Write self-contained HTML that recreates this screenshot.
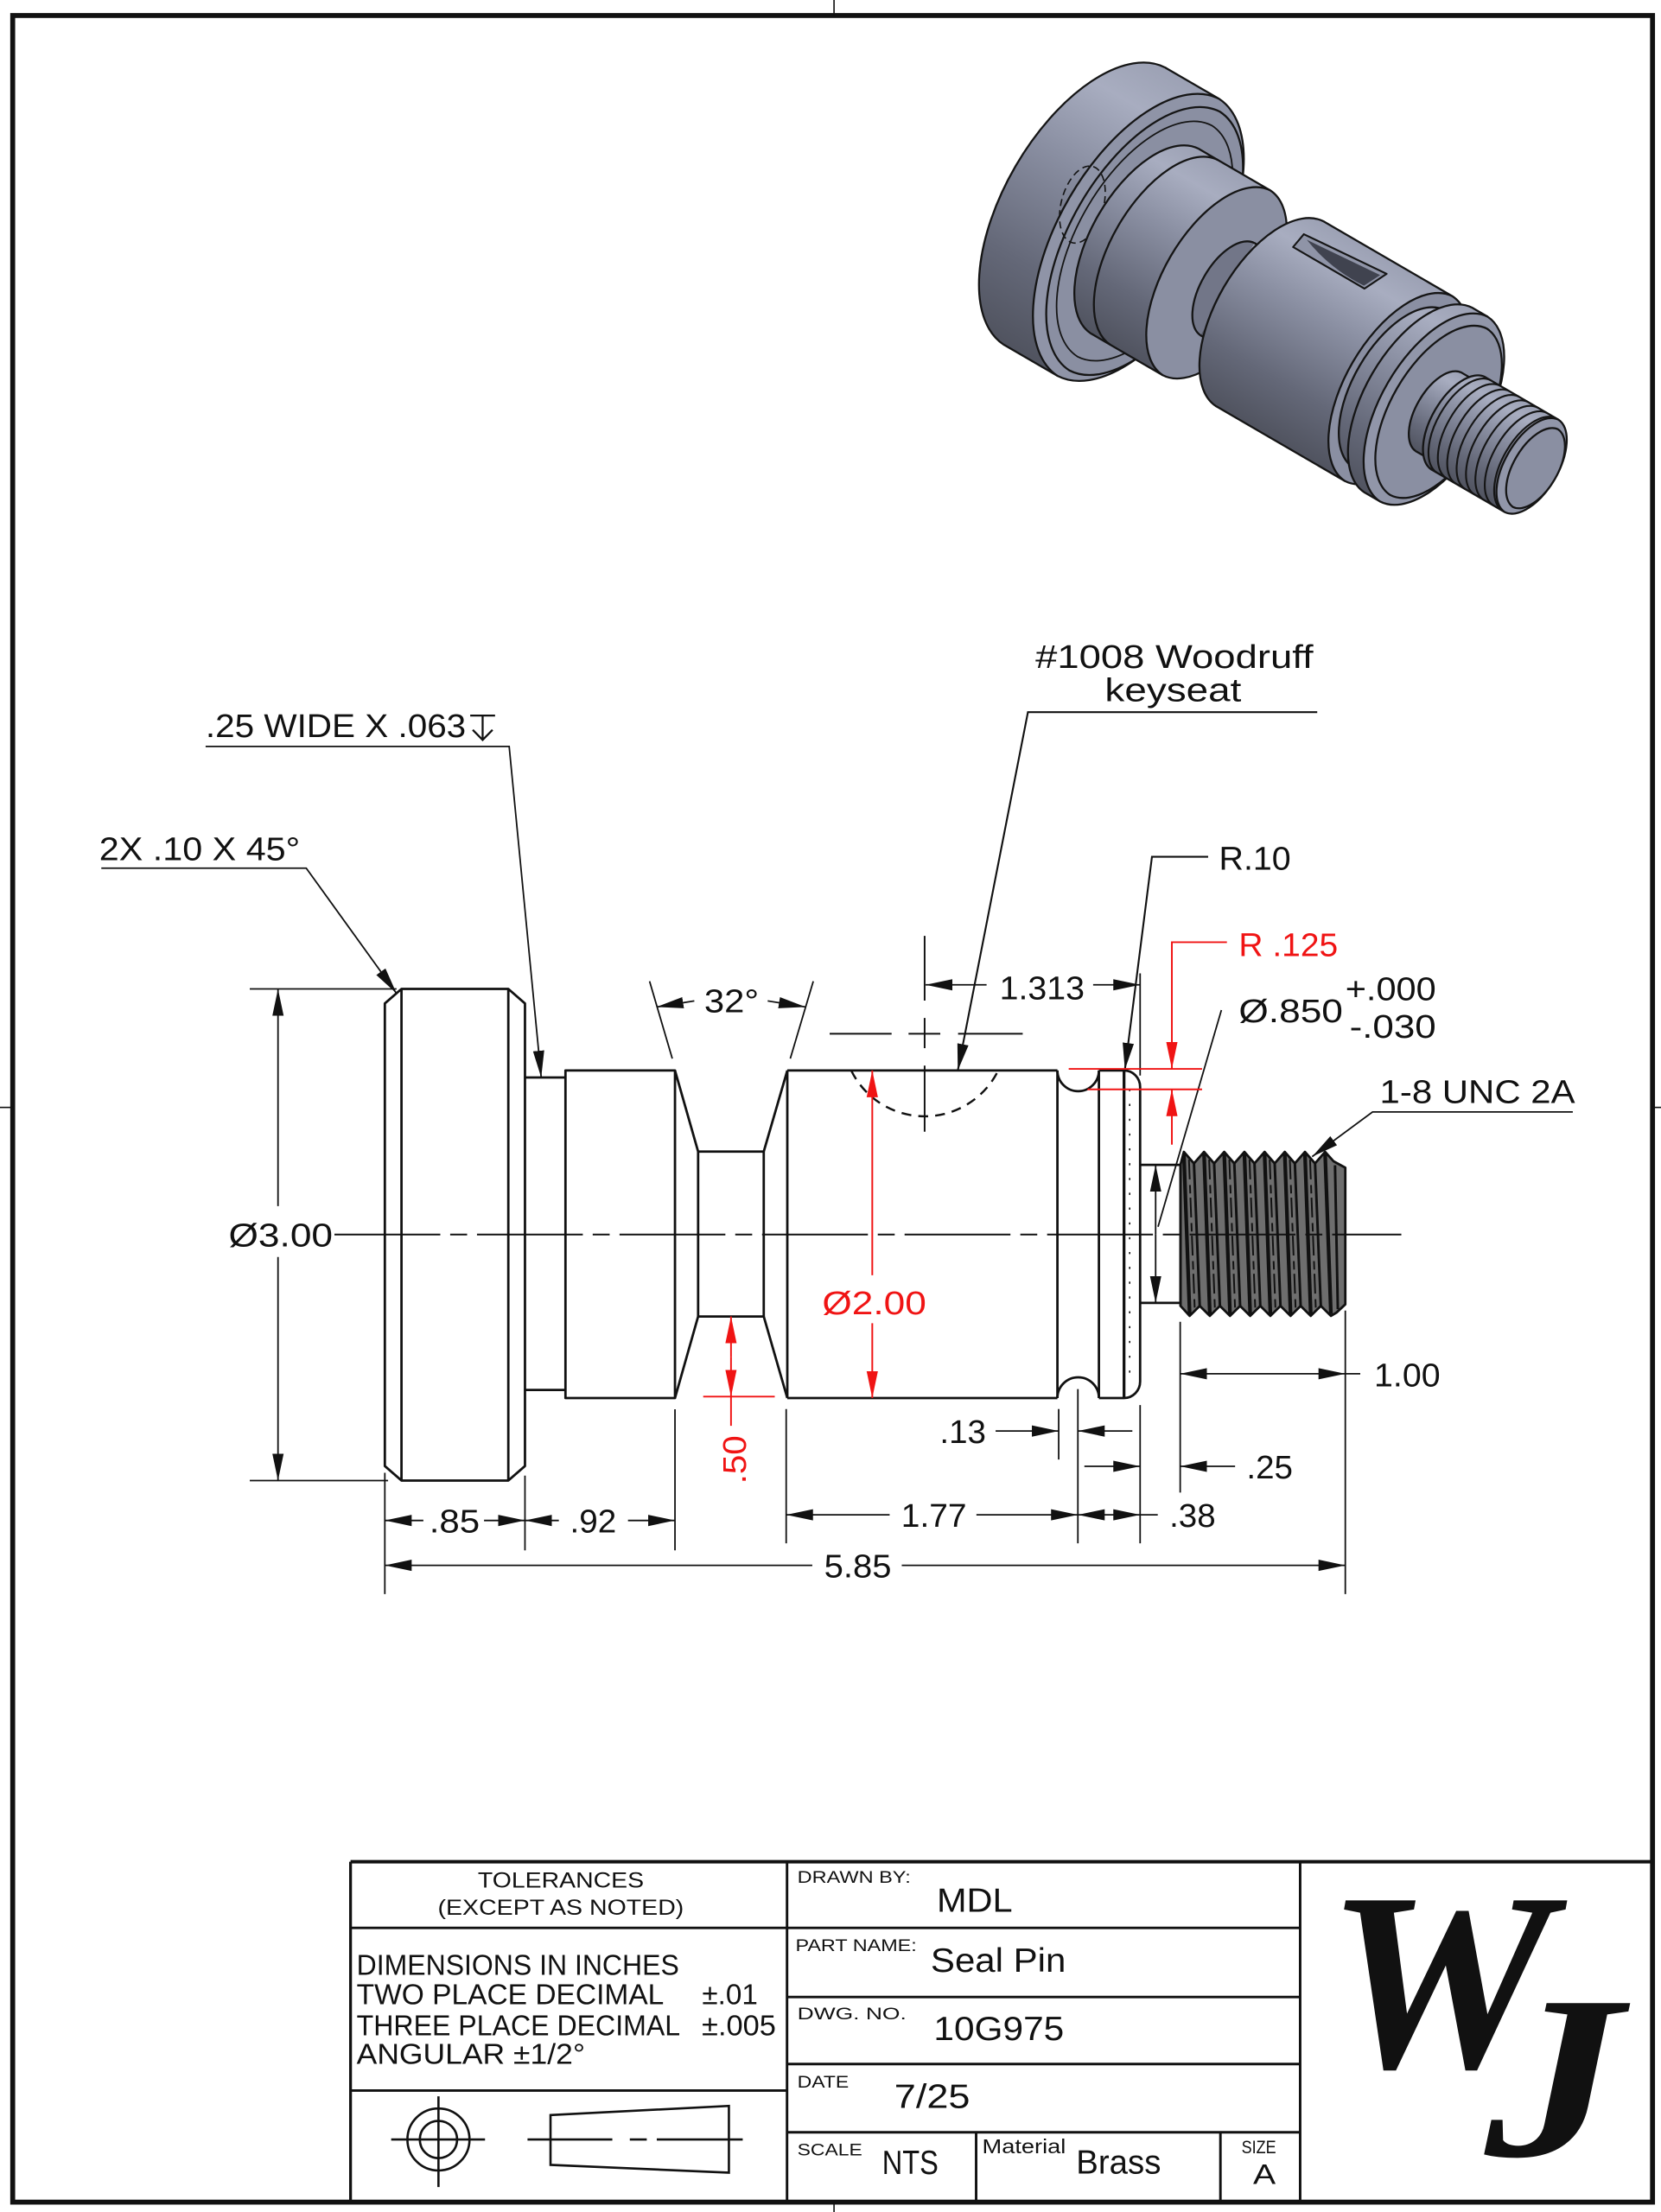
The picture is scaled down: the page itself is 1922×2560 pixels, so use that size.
<!DOCTYPE html>
<html><head><meta charset="utf-8"><style>
html,body{margin:0;padding:0;background:#fff;}
svg{display:block;}
text{font-family:"Liberation Sans",sans-serif;fill:#111;}
.d{font-size:23.5px;}
.r{fill:#f01414;}
.t{font-size:12px;}
.b{font-size:24px;}
</style></head><body>
<svg xmlns="http://www.w3.org/2000/svg" width="1922" height="2560" viewBox="0 0 1177 1568" preserveAspectRatio="none">
<defs>
<marker id="a" markerUnits="userSpaceOnUse" markerWidth="20" markerHeight="10" viewBox="0 0 20 10" refX="19" refY="5" orient="auto"><path d="M0,1 L19,5 L0,9 Z" fill="#111"/></marker>
<marker id="ar" markerUnits="userSpaceOnUse" markerWidth="20" markerHeight="10" viewBox="0 0 20 10" refX="19" refY="5" orient="auto"><path d="M0,1 L19,5 L0,9 Z" fill="#f01414"/></marker>
<linearGradient id="g15" gradientUnits="userSpaceOnUse" x1="706.85" y1="241.75" x2="821.15" y2="45.25"><stop offset="0" stop-color="#50535f"/><stop offset="0.25" stop-color="#646878"/><stop offset="0.6" stop-color="#8a8fa2"/><stop offset="0.85" stop-color="#a8adc0"/><stop offset="1" stop-color="#9ca1b4"/></linearGradient>
<linearGradient id="g10" gradientUnits="userSpaceOnUse" x1="725.9" y1="209" x2="802.1" y2="78"><stop offset="0" stop-color="#50535f"/><stop offset="0.25" stop-color="#646878"/><stop offset="0.6" stop-color="#8a8fa2"/><stop offset="0.85" stop-color="#a8adc0"/><stop offset="1" stop-color="#9ca1b4"/></linearGradient>
<linearGradient id="g05" gradientUnits="userSpaceOnUse" x1="744.95" y1="176.25" x2="783.05" y2="110.75"><stop offset="0" stop-color="#50535f"/><stop offset="0.25" stop-color="#646878"/><stop offset="0.6" stop-color="#8a8fa2"/><stop offset="0.85" stop-color="#a8adc0"/><stop offset="1" stop-color="#9ca1b4"/></linearGradient>
<linearGradient id="g04" gradientUnits="userSpaceOnUse" x1="747.81" y1="171.34" x2="780.19" y2="115.66"><stop offset="0" stop-color="#50535f"/><stop offset="0.25" stop-color="#646878"/><stop offset="0.6" stop-color="#8a8fa2"/><stop offset="0.85" stop-color="#a8adc0"/><stop offset="1" stop-color="#9ca1b4"/></linearGradient>
</defs>

<!-- Sheet border -->
<rect x="9" y="11" width="1162" height="1550" fill="none" stroke="#111" stroke-width="3.5"/>
<g stroke="#111" stroke-width="1">
<line x1="591" y1="0" x2="591" y2="11"/>
<line x1="591" y1="1561" x2="591" y2="1568"/>
<line x1="0" y1="785" x2="9" y2="785"/>
<line x1="1171" y1="785" x2="1177" y2="785"/>
</g>

<!-- 3D render -->
<g stroke="#151515" stroke-width="1.4" stroke-linejoin="round">
<path d="M825.58,47.83 A113.7,57.9 -59.8 0 1 711.28,244.33 A113.7,57.9 -59.8 0 1 825.58,47.83 Z" fill="url(#g15)"/>
<polygon points="825.58,47.83 863.81,70.04 749.51,266.54 711.28,244.33" fill="url(#g15)" stroke="none"/>
<line x1="825.58" y1="47.83" x2="863.81" y2="70.04"/>
<line x1="711.28" y1="244.33" x2="749.51" y2="266.54"/>
<path d="M863.81,70.04 A113.7,57.9 -59.8 0 1 749.51,266.54 A113.7,57.9 -59.8 0 1 863.81,70.04 Z" fill="#8f94a7"/>
<path d="M864.43,79.17 A106.12,54.04 -59.8 0 1 757.75,262.57 A106.12,54.04 -59.8 0 1 864.43,79.17 Z" fill="#8a8fa2"/>
<path d="M858.72,88.99 A94.75,48.25 -59.8 0 1 763.46,252.75 A94.75,48.25 -59.8 0 1 858.72,88.99 Z" fill="none" stroke-width="1.1"/>
<ellipse cx="767" cy="145" rx="15" ry="28" transform="rotate(15 767 145)" fill="none" stroke-width="1" stroke-dasharray="5 3"/>
<path d="M849.19,105.37 A75.8,38.6 -59.8 0 1 772.99,236.37 A75.8,38.6 -59.8 0 1 849.19,105.37 Z" fill="url(#g10)"/>
<polygon points="849.19,105.37 900.16,134.99 823.96,265.99 772.99,236.37" fill="url(#g10)" stroke="none"/>
<line x1="849.19" y1="105.37" x2="900.16" y2="134.99"/>
<line x1="772.99" y1="236.37" x2="823.96" y2="265.99"/>
<path d="M863.04,113.42 A75.8,38.6 -59.8 0 0 786.84,244.42" fill="none"/>
<path d="M900.16,134.99 A75.8,38.6 -59.8 0 1 823.96,265.99 A75.8,38.6 -59.8 0 1 900.16,134.99 Z" fill="#8a8fa2"/>
<path d="M888.86,172.25 A37.9,19.3 -59.8 0 1 850.76,237.75 A37.9,19.3 -59.8 0 1 888.86,172.25 Z" fill="#727688"/>
<polygon points="888.86,172.25 911.02,185.13 872.92,250.63 850.76,237.75" fill="url(#g05)" stroke="none"/>
<line x1="888.86" y1="172.25" x2="911.02" y2="185.13"/>
<line x1="850.76" y1="237.75" x2="872.92" y2="250.63"/>
<polygon points="911.02,185.13 937.83,156.89 861.63,287.89 872.92,250.63" fill="url(#g10)" stroke="none"/>
<line x1="911.02" y1="185.13" x2="937.83" y2="156.89"/>
<line x1="872.92" y1="250.63" x2="861.63" y2="287.89"/>
<path d="M937.83,156.89 A75.8,38.6 -59.8 0 1 861.63,287.89 A75.8,38.6 -59.8 0 1 937.83,156.89 Z" fill="url(#g10)"/>
<polygon points="937.83,156.89 1029.24,210.02 953.04,341.02 861.63,287.89" fill="url(#g10)" stroke="none"/>
<line x1="937.83" y1="156.89" x2="1029.24" y2="210.02"/>
<line x1="861.63" y1="287.89" x2="953.04" y2="341.02"/>
<polygon points="916.3,175.1 923.9,166 982.6,194.1 966.9,204.6" fill="#8f94a7" stroke-width="1.3"/>
<path d="M926,170 L978,195 L966.5,202.5 Q943,191 926,170 Z" fill="#40434f" stroke="none"/>
<path d="M1029.24,210.02 A75.8,38.6 -59.8 0 1 953.04,341.02 A75.8,38.6 -59.8 0 1 1029.24,210.02 Z" fill="#8a8fa2"/>
<path d="M1023.53,219.84 A64.43,32.81 -59.8 0 1 958.75,331.2 A64.43,32.81 -59.8 0 1 1023.53,219.84 Z" fill="url(#g10)"/>
<polygon points="1023.53,219.84 1037.38,227.89 972.6,339.25 958.75,331.2" fill="url(#g10)" stroke="none"/>
<line x1="1023.53" y1="219.84" x2="1037.38" y2="227.89"/>
<line x1="958.75" y1="331.2" x2="972.6" y2="339.25"/>
<path d="M1043.09,218.07 A75.8,38.6 -59.8 0 1 966.89,349.07 A75.8,38.6 -59.8 0 1 1043.09,218.07 Z" fill="url(#g10)"/>
<polygon points="1043.09,218.07 1054.17,224.51 977.97,355.51 966.89,349.07" fill="url(#g10)" stroke="none"/>
<line x1="1043.09" y1="218.07" x2="1054.17" y2="224.51"/>
<line x1="966.89" y1="349.07" x2="977.97" y2="355.51"/>
<path d="M1054.17,224.51 A75.8,38.6 -59.8 0 1 977.97,355.51 A75.8,38.6 -59.8 0 1 1054.17,224.51 Z" fill="#9196a9"/>
<path d="M1053.68,232.99 A68.22,34.74 -59.8 0 1 985.1,350.89 A68.22,34.74 -59.8 0 1 1053.68,232.99 Z" fill="#8a8fa2"/>
<path d="M1035.58,264.1 A32.22,16.41 -59.8 0 1 1003.2,319.78 A32.22,16.41 -59.8 0 1 1035.58,264.1 Z" fill="url(#g04)"/>
<polygon points="1035.58,264.1 1049.43,272.15 1017.05,327.83 1003.2,319.78" fill="url(#g04)" stroke="none"/>
<line x1="1035.58" y1="264.1" x2="1049.43" y2="272.15"/>
<line x1="1003.2" y1="319.78" x2="1017.05" y2="327.83"/>
<path d="M1052.29,267.24 A37.9,19.3 -59.8 0 1 1014.19,332.74 A37.9,19.3 -59.8 0 1 1052.29,267.24 Z" fill="url(#g05)"/>
<polygon points="1052.29,267.24 1104.37,297.51 1066.27,363.01 1014.19,332.74" fill="url(#g05)" stroke="none"/>
<line x1="1052.29" y1="267.24" x2="1104.37" y2="297.51"/>
<line x1="1014.19" y1="332.74" x2="1066.27" y2="363.01"/>
<g fill="none" stroke-width="1.3">
<path d="M1056.17,269.5 A37.9,19.3 -59.8 0 0 1018.07,335"/>
<path d="M1062.82,273.36 A37.9,19.3 -59.8 0 0 1024.72,338.86"/>
<path d="M1069.47,277.22 A37.9,19.3 -59.8 0 0 1031.37,342.72"/>
<path d="M1076.12,281.09 A37.9,19.3 -59.8 0 0 1038.02,346.59"/>
<path d="M1082.76,284.95 A37.9,19.3 -59.8 0 0 1044.66,350.45"/>
<path d="M1089.41,288.82 A37.9,19.3 -59.8 0 0 1051.31,354.32"/>
<path d="M1096.06,292.68 A37.9,19.3 -59.8 0 0 1057.96,358.18"/>
<path d="M1102.71,296.54 A37.9,19.3 -59.8 0 0 1064.61,362.04"/>
</g>
<path d="M1104.37,297.51 A37.9,19.3 -59.8 0 1 1066.27,363.01 A37.9,19.3 -59.8 0 1 1104.37,297.51 Z" fill="#9196a9"/>
<path d="M1104.09,304.36 A31.84,16.21 -59.8 0 1 1072.09,359.38 A31.84,16.21 -59.8 0 1 1104.09,304.36 Z" fill="#8a8fa2"/>
</g>

<!-- ===== 2D view: object lines ===== -->
<g fill="none" stroke="#111" stroke-width="1.7" stroke-linejoin="round">
<path d="M272.7,711.3 L284.5,701 L360.2,701 L372,711.3 L372,1039.2 L360.2,1049.5 L284.5,1049.5 L272.7,1039.2 Z"/>
<line x1="284.5" y1="701" x2="284.5" y2="1049.5"/>
<line x1="360.2" y1="701" x2="360.2" y2="1049.5"/>
<line x1="372" y1="763.8" x2="400.7" y2="763.8"/>
<line x1="372" y1="985.3" x2="400.7" y2="985.3"/>
<rect x="400.7" y="758.8" width="77.6" height="232.2"/>
<path d="M478.3,758.8 L494.7,816.3 L541.2,816.3 L557.9,758.8"/>
<path d="M478.3,991 L494.7,933.2 L541.2,933.2 L557.9,991"/>
<line x1="494.7" y1="816.3" x2="494.7" y2="933.2"/>
<line x1="541.2" y1="816.3" x2="541.2" y2="933.2"/>
<line x1="557.9" y1="758.8" x2="557.9" y2="991"/>
<line x1="557.9" y1="758.8" x2="749.3" y2="758.8"/>
<line x1="557.9" y1="991" x2="749.3" y2="991"/>
<line x1="749.3" y1="758.8" x2="749.3" y2="991"/>
<path d="M749.3,758.8 A14.7,14.7 0 0 0 778.7,758.8"/>
<path d="M749.3,991 A14.7,14.7 0 0 1 778.7,991"/>
<line x1="778.7" y1="758.8" x2="778.7" y2="991"/>
<path d="M778.7,758.8 L796.5,758.8 A11.4,11.7 0 0 1 807.9,770.5 L807.9,979.3 A11.4,11.7 0 0 1 796.5,991 L778.7,991"/>
<line x1="796.5" y1="758.8" x2="796.5" y2="991" stroke-width="2"/>
<line x1="800.5" y1="772" x2="800.5" y2="980" stroke-width="1" stroke-dasharray="1.5 9"/>
<line x1="807.9" y1="825.7" x2="836.5" y2="825.7"/>
<line x1="807.9" y1="923.6" x2="836.5" y2="923.6"/>
<path fill="#6e6e6e" d="M836.5,825.5 L838.9,816.5 L846.05,824.7 L853.2,816.5 L860.35,824.7 L867.5,816.5 L874.65,824.7 L881.8,816.5 L888.95,824.7 L896.1,816.5 L903.25,824.7 L910.4,816.5 L917.55,824.7 L924.7,816.5 L931.85,824.7 L939,816.5 L945,823.2 L953.3,827.7 L953.3,924.6 L947,930.5 L943.1,932.8 L935.95,925.7 L928.8,932.8 L921.65,925.7 L914.5,932.8 L907.35,925.7 L900.2,932.8 L893.05,925.7 L885.9,932.8 L878.75,925.7 L871.6,932.8 L864.45,925.7 L857.3,932.8 L850.15,925.7 L843,932.8 L836.5,925.7 Z"/>
</g>
<g stroke="#111" fill="none">
<g stroke-width="2.6">
<line x1="838.9" y1="818" x2="843" y2="931.5"/>
<line x1="853.2" y1="818" x2="857.3" y2="931.5"/>
<line x1="867.5" y1="818" x2="871.6" y2="931.5"/>
<line x1="881.8" y1="818" x2="885.9" y2="931.5"/>
<line x1="896.1" y1="818" x2="900.2" y2="931.5"/>
<line x1="910.4" y1="818" x2="914.5" y2="931.5"/>
<line x1="924.7" y1="818" x2="928.8" y2="931.5"/>
<line x1="939" y1="818" x2="943.1" y2="931.5"/>
</g>
<g stroke-width="1.8">
<line x1="846.05" y1="824.7" x2="850.15" y2="925.7"/>
<line x1="860.35" y1="824.7" x2="864.45" y2="925.7"/>
<line x1="874.65" y1="824.7" x2="878.75" y2="925.7"/>
<line x1="888.95" y1="824.7" x2="893.05" y2="925.7"/>
<line x1="903.25" y1="824.7" x2="907.35" y2="925.7"/>
<line x1="917.55" y1="824.7" x2="921.65" y2="925.7"/>
<line x1="931.85" y1="824.7" x2="935.95" y2="925.7"/>
<line x1="946" y1="826" x2="948" y2="928"/>
</g>
<g stroke-width="1.2" stroke-dasharray="14 4 6 3">
<line x1="842.5" y1="822" x2="846.6" y2="928"/>
<line x1="856.8" y1="822" x2="860.9" y2="928"/>
<line x1="871.1" y1="822" x2="875.2" y2="928"/>
<line x1="885.4" y1="822" x2="889.5" y2="928"/>
<line x1="899.7" y1="822" x2="903.8" y2="928"/>
<line x1="914" y1="822" x2="918.1" y2="928"/>
<line x1="928.3" y1="822" x2="932.4" y2="928"/>
</g>
<line x1="836.5" y1="825" x2="836.5" y2="926" stroke-width="1.7"/>
</g>

<line x1="237" y1="875.1" x2="993" y2="875.1" stroke="#111" stroke-width="1.2" stroke-dasharray="75 7 12 7"/>

<g stroke="#111" stroke-width="1.2" fill="none">
<line x1="655.2" y1="663.4" x2="655.2" y2="709.3"/>
<line x1="655.2" y1="721.6" x2="655.2" y2="743"/>
<line x1="655.2" y1="755.4" x2="655.2" y2="802.2"/>
<line x1="587.9" y1="732.8" x2="631.8" y2="732.8"/>
<line x1="643.8" y1="732.8" x2="666.3" y2="732.8"/>
<line x1="678.9" y1="732.8" x2="724.7" y2="732.8"/>
<path d="M603.2,758.9 A58,58 0 0 0 707.3,758.9" stroke-width="1.5" stroke-dasharray="7 5"/>
</g>

<g stroke="#111" stroke-width="1.1" fill="none">
<line x1="177" y1="701" x2="281" y2="701"/>
<line x1="177" y1="1049.5" x2="275" y2="1049.5"/>
<line x1="197" y1="855" x2="197" y2="701" marker-end="url(#a)"/>
<line x1="197" y1="891" x2="197" y2="1049.5" marker-end="url(#a)"/>
<line x1="272.7" y1="1044" x2="272.7" y2="1130"/>
<line x1="372" y1="1046" x2="372" y2="1099"/>
<line x1="478.3" y1="999" x2="478.3" y2="1099"/>
<line x1="557.1" y1="998.8" x2="557.1" y2="1094"/>
<line x1="750.2" y1="998.8" x2="750.2" y2="1034.6"/>
<line x1="763.8" y1="984.7" x2="763.8" y2="1094"/>
<line x1="807.9" y1="996" x2="807.9" y2="1094"/>
<line x1="836.3" y1="937" x2="836.3" y2="1058"/>
<line x1="953.3" y1="929" x2="953.3" y2="1130"/>
<line x1="300" y1="1077.8" x2="272.7" y2="1077.8" marker-end="url(#a)"/>
<line x1="343" y1="1077.8" x2="372" y2="1077.8" marker-end="url(#a)"/>
<line x1="396" y1="1077.8" x2="372" y2="1077.8" marker-end="url(#a)"/>
<line x1="445" y1="1077.8" x2="478.3" y2="1077.8" marker-end="url(#a)"/>
<line x1="575.6" y1="1109.6" x2="272.7" y2="1109.6" marker-end="url(#a)"/>
<line x1="639" y1="1109.6" x2="953.3" y2="1109.6" marker-end="url(#a)"/>
<line x1="630.4" y1="1073.8" x2="557.1" y2="1073.8" marker-end="url(#a)"/>
<line x1="691.9" y1="1073.8" x2="763.8" y2="1073.8" marker-end="url(#a)"/>
<line x1="786" y1="1073.8" x2="763.8" y2="1073.8" marker-end="url(#a)"/>
<line x1="786" y1="1073.8" x2="807.9" y2="1073.8" marker-end="url(#a)"/>
<line x1="807.9" y1="1073.8" x2="820.4" y2="1073.8"/>
<line x1="705.5" y1="1014.4" x2="750.2" y2="1014.4" marker-end="url(#a)"/>
<line x1="802.4" y1="1014.4" x2="763.8" y2="1014.4" marker-end="url(#a)"/>
<line x1="768.4" y1="1039.4" x2="807.9" y2="1039.4" marker-end="url(#a)"/>
<line x1="875.2" y1="1039.4" x2="836.3" y2="1039.4" marker-end="url(#a)"/>
<line x1="895" y1="973.8" x2="836.3" y2="973.8" marker-end="url(#a)"/>
<line x1="895" y1="973.8" x2="953.3" y2="973.8" marker-end="url(#a)"/>
<line x1="953.3" y1="973.8" x2="963.9" y2="973.8"/>
<line x1="460.3" y1="695.6" x2="476.4" y2="750.4"/>
<line x1="576.3" y1="695.6" x2="560" y2="750.4"/>
<line x1="492" y1="709.5" x2="465.3" y2="713.8" marker-end="url(#a)"/>
<line x1="544" y1="709.5" x2="570.8" y2="713.8" marker-end="url(#a)"/>
<line x1="699.1" y1="698.1" x2="655.9" y2="698.1" marker-end="url(#a)"/>
<line x1="774.6" y1="698.1" x2="807.9" y2="698.1" marker-end="url(#a)"/>
<line x1="807.9" y1="690" x2="807.9" y2="762.4"/>
<line x1="818.9" y1="875" x2="818.9" y2="825.7" marker-end="url(#a)"/>
<line x1="818.9" y1="875" x2="818.9" y2="923.6" marker-end="url(#a)"/>
<line x1="820.6" y1="869.6" x2="865.5" y2="716"/>
<polyline points="71.8,615.4 217,615.4 281,704.2" marker-end="url(#a)"/>
<polyline points="145.7,529.1 360.8,529.1 383.5,763.8" marker-end="url(#a)"/>
<polyline points="933.4,504.8 728.4,504.8 678.7,758.9" marker-end="url(#a)" stroke-width="1.3"/>
<polyline points="856.1,607.3 816.3,607.3 797.1,758.3" marker-end="url(#a)" stroke-width="1.3"/>
<polyline points="1114.5,788.2 972.6,788.2 929.8,819.9" marker-end="url(#a)"/>
<line x1="333.2" y1="507.2" x2="350.8" y2="507.2" stroke-width="1.4"/>
<line x1="342" y1="507.2" x2="342" y2="524.5" stroke-width="1.4"/>
<polyline points="335,517.4 342,524.5 349,517.4" stroke-width="1.4"/>
</g>

<g stroke="#f01414" stroke-width="1.2" fill="none">
<line x1="618.1" y1="904" x2="618.1" y2="758.8" marker-end="url(#ar)"/>
<line x1="618.1" y1="938" x2="618.1" y2="991" marker-end="url(#ar)"/>
<line x1="518" y1="962" x2="518" y2="933.2" marker-end="url(#ar)"/>
<line x1="518" y1="962" x2="518" y2="990" marker-end="url(#ar)"/>
<line x1="518" y1="990" x2="518" y2="1010.7"/>
<line x1="498.3" y1="990" x2="549" y2="990"/>
<polyline points="869.4,667.9 830.4,667.9 830.4,757.7" marker-end="url(#ar)"/>
<line x1="830.4" y1="811.4" x2="830.4" y2="772.2" marker-end="url(#ar)"/>
<line x1="757.3" y1="757.7" x2="851.8" y2="757.7"/>
<line x1="770.6" y1="772.2" x2="851.8" y2="772.2"/>
</g>

<text class="d" x="70.3" y="609.9" textLength="142.3" lengthAdjust="spacingAndGlyphs">2X .10 X 45°</text>
<text class="d" x="145.7" y="522.5" textLength="184.5" lengthAdjust="spacingAndGlyphs">.25 WIDE X .063</text>
<text class="d" x="733.7" y="473.6" textLength="196.9" lengthAdjust="spacingAndGlyphs">#1008 Woodruff</text>
<text class="d" x="782.9" y="497" textLength="96.7" lengthAdjust="spacingAndGlyphs">keyseat</text>
<text class="d" x="863.8" y="616.4" textLength="50.9" lengthAdjust="spacingAndGlyphs">R.10</text>
<text class="d r" x="877.8" y="677.7" textLength="70.3" lengthAdjust="spacingAndGlyphs">R .125</text>
<text class="d" x="877.8" y="724.6" textLength="73.8" lengthAdjust="spacingAndGlyphs">Ø.850</text>
<text class="d" x="953.3" y="709" textLength="64.3" lengthAdjust="spacingAndGlyphs">+.000</text>
<text class="d" x="956.3" y="735.7" textLength="61.3" lengthAdjust="spacingAndGlyphs">-.030</text>
<text class="d" x="977.7" y="782" textLength="138.4" lengthAdjust="spacingAndGlyphs">1-8 UNC 2A</text>
<text class="d" x="708.3" y="708.3" textLength="60.2" lengthAdjust="spacingAndGlyphs">1.313</text>
<text class="d" x="499" y="717.5" textLength="38.7" lengthAdjust="spacingAndGlyphs">32°</text>
<text class="d" x="162" y="883.6" textLength="73.8" lengthAdjust="spacingAndGlyphs">Ø3.00</text>
<text class="d r" x="582.6" y="931.5" textLength="73.8" lengthAdjust="spacingAndGlyphs">Ø2.00</text>
<text class="d r" transform="translate(528.4,1051.9) rotate(-90)" x="0" y="0" textLength="34.4" lengthAdjust="spacingAndGlyphs">.50</text>
<text class="d" x="304.2" y="1086.3" textLength="35.8" lengthAdjust="spacingAndGlyphs">.85</text>
<text class="d" x="403.9" y="1086.3" textLength="32.9" lengthAdjust="spacingAndGlyphs">.92</text>
<text class="d" x="638.6" y="1082.3" textLength="46.4" lengthAdjust="spacingAndGlyphs">1.77</text>
<text class="d" x="828.6" y="1082.3" textLength="32.8" lengthAdjust="spacingAndGlyphs">.38</text>
<text class="d" x="665.9" y="1022.9" textLength="32.8" lengthAdjust="spacingAndGlyphs">.13</text>
<text class="d" x="883.3" y="1047.9" textLength="32.8" lengthAdjust="spacingAndGlyphs">.25</text>
<text class="d" x="973.7" y="982.9" textLength="46.9" lengthAdjust="spacingAndGlyphs">1.00</text>
<text class="d" x="584" y="1118.1" textLength="47.7" lengthAdjust="spacingAndGlyphs">5.85</text>

<g stroke="#111" fill="none">
<line x1="248.4" y1="1319.7" x2="1171" y2="1319.7" stroke-width="2.4"/>
<line x1="248.4" y1="1319.7" x2="248.4" y2="1561" stroke-width="2"/>
<line x1="557.7" y1="1319.7" x2="557.7" y2="1561" stroke-width="1.8"/>
<line x1="921.3" y1="1319.7" x2="921.3" y2="1561" stroke-width="1.8"/>
<g stroke-width="1.8">
<line x1="248.4" y1="1366.6" x2="557.7" y2="1366.6"/>
<line x1="248.4" y1="1481.9" x2="557.7" y2="1481.9"/>
<line x1="557.7" y1="1366.6" x2="921.3" y2="1366.6"/>
<line x1="557.7" y1="1415.6" x2="921.3" y2="1415.6"/>
<line x1="557.7" y1="1463.1" x2="921.3" y2="1463.1"/>
<line x1="557.7" y1="1511.5" x2="921.3" y2="1511.5"/>
<line x1="691.7" y1="1511.5" x2="691.7" y2="1561"/>
<line x1="864.8" y1="1511.5" x2="864.8" y2="1561"/>
</g>
<g stroke-width="1.6">
<circle cx="310.7" cy="1516.6" r="22"/>
<circle cx="310.7" cy="1516.6" r="13.2"/>
<line x1="277.2" y1="1516.6" x2="343.7" y2="1516.6"/>
<line x1="310.7" y1="1486" x2="310.7" y2="1550.3"/>
<polygon points="390.1,1499.3 516.5,1492.8 516.5,1540.1 390.1,1534.6"/>
<line x1="373.8" y1="1516.6" x2="433.9" y2="1516.6"/>
<line x1="446.3" y1="1516.6" x2="458.3" y2="1516.6"/>
<line x1="465.4" y1="1516.6" x2="526.3" y2="1516.6"/>
</g>
</g>
<text x="338.6" y="1337.9" font-size="15.5" textLength="117.7" lengthAdjust="spacingAndGlyphs">TOLERANCES</text>
<text x="310.2" y="1357.4" font-size="15.5" textLength="174.4" lengthAdjust="spacingAndGlyphs">(EXCEPT AS NOTED)</text>
<text x="252.7" y="1399.9" font-size="20.5" textLength="228.5" lengthAdjust="spacingAndGlyphs">DIMENSIONS IN INCHES</text>
<text x="252.7" y="1420.7" font-size="20.5" textLength="217.8" lengthAdjust="spacingAndGlyphs">TWO PLACE DECIMAL</text>
<text x="497.5" y="1420.7" font-size="20.5" textLength="39.5" lengthAdjust="spacingAndGlyphs">±.01</text>
<text x="252.7" y="1442.7" font-size="20.5" textLength="229.3" lengthAdjust="spacingAndGlyphs">THREE PLACE DECIMAL</text>
<text x="497.3" y="1442.7" font-size="20.5" textLength="52.6" lengthAdjust="spacingAndGlyphs">±.005</text>
<text x="252.7" y="1463.1" font-size="20.5" textLength="161.9" lengthAdjust="spacingAndGlyphs">ANGULAR ±1/2°</text>

<text class="t" x="565" y="1334.5" textLength="80.3" lengthAdjust="spacingAndGlyphs">DRAWN BY:</text>
<text class="b" x="663.8" y="1355.3" textLength="53.7" lengthAdjust="spacingAndGlyphs">MDL</text>
<text class="t" x="563.7" y="1382.9" textLength="85.9" lengthAdjust="spacingAndGlyphs">PART NAME:</text>
<text class="b" x="659.5" y="1397.8" textLength="95.8" lengthAdjust="spacingAndGlyphs">Seal Pin</text>
<text class="t" x="565" y="1431.3" textLength="77.3" lengthAdjust="spacingAndGlyphs">DWG. NO.</text>
<text class="b" x="661.6" y="1446.2" textLength="92.4" lengthAdjust="spacingAndGlyphs">10G975</text>
<text class="t" x="565" y="1479.9" textLength="36.5" lengthAdjust="spacingAndGlyphs">DATE</text>
<text class="b" x="633.7" y="1494.2" textLength="53.7" lengthAdjust="spacingAndGlyphs">7/25</text>
<text class="t" x="565" y="1527.9" textLength="46" lengthAdjust="spacingAndGlyphs">SCALE</text>
<text class="b" x="625.1" y="1541.1" textLength="39.9" lengthAdjust="spacingAndGlyphs">NTS</text>
<text x="696" y="1526.3" font-size="14" textLength="59.3" lengthAdjust="spacingAndGlyphs">Material</text>
<text class="b" x="762.6" y="1540.7" textLength="60.1" lengthAdjust="spacingAndGlyphs">Brass</text>
<text x="879.8" y="1526.3" font-size="13" textLength="24.5" lengthAdjust="spacingAndGlyphs">SIZE</text>
<text x="888" y="1548.2" font-size="20" textLength="16" lengthAdjust="spacingAndGlyphs">A</text>

<text x="940" y="1465" style="font-family:'Liberation Serif',serif;font-style:italic;font-weight:bold;font-size:180px;" textLength="160" lengthAdjust="spacingAndGlyphs">W</text>
<text x="1052" y="1528" style="font-family:'Liberation Serif',serif;font-style:italic;font-weight:bold;font-size:165px;" textLength="98" lengthAdjust="spacingAndGlyphs">J</text>
</svg>
</body></html>
